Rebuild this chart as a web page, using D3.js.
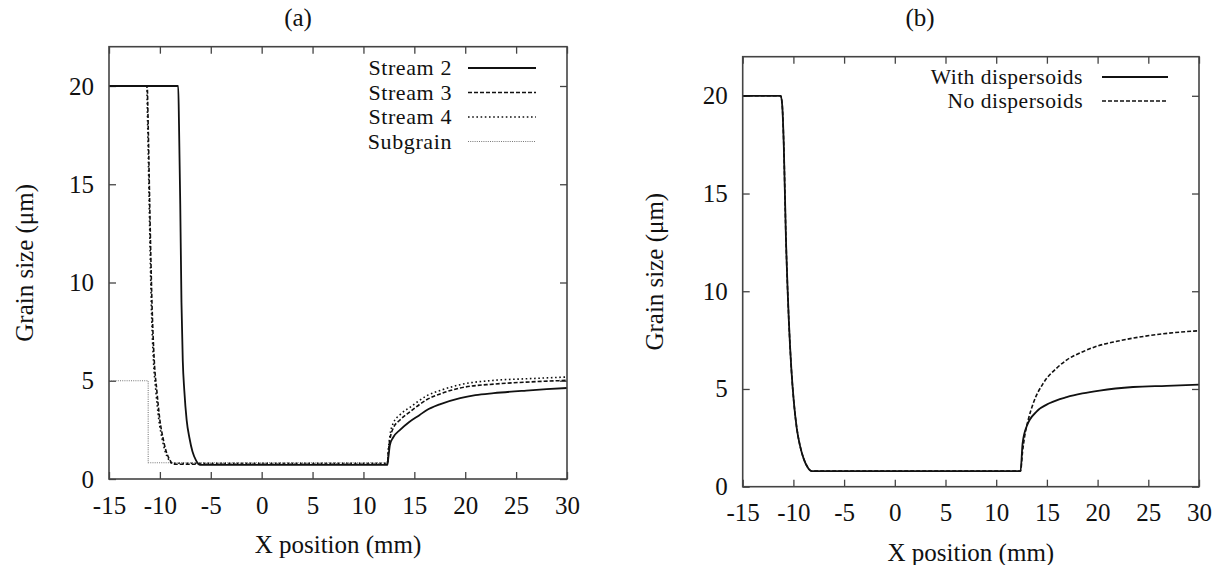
<!DOCTYPE html>
<html><head><meta charset="utf-8">
<script src="https://cdn.jsdelivr.net/npm/d3@7"></script>
<style>
html,body{margin:0;padding:0;background:#fff;}
svg text{font-family:"Liberation Serif","Times New Roman",serif;fill:#111;}
</style></head>
<body><svg id="c" width="1223" height="565"></svg>
<script>
// ---------- data ----------
const xTicks = [-15,-10,-5,0,5,10,15,20,25,30];
const yTicks = [0,5,10,15,20];
const xDomain = [-15,30];
const yDomain = [0,22];

// Panel (a)
const stream2 = [[-15,20],[-8.2,20],[-8.12,18],[-8.0,14],[-7.88,9],[-7.75,6],[-7.6,4.5],[-7.37,3],[-7.1,2.1],[-6.8,1.4],[-6.45,0.95],[-6.05,0.72],
  [12.35,0.72],[12.45,1.1],[12.6,1.73],[12.9,2.1],[13.6,2.5],[14.5,2.9],[15.5,3.25],[16.2,3.5],[17.5,3.8],[19.5,4.12],[21,4.27],[22.8,4.37],[26,4.5],[28,4.57],[30,4.63]];
const stream3 = [[-15,20],[-11.25,20],[-11.15,18],[-11.0,14],[-10.78,9],[-10.55,6],[-10.3,4.5],[-10.0,3],[-9.7,2.1],[-9.38,1.4],[-9.05,1.0],[-8.68,0.75],
  [12.35,0.75],[12.45,1.4],[12.6,2.0],[12.93,2.59],[13.59,3.0],[14.6,3.43],[16.2,4.03],[17.8,4.38],[19.5,4.63],[22.8,4.83],[26,4.93],[30,5.02]];
const stream4 = [[-15,20],[-11.3,20],[-11.2,18],[-11.05,14],[-10.85,9],[-10.63,6],[-10.4,4.5],[-10.1,3],[-9.8,2.1],[-9.48,1.4],[-9.15,1.0],[-8.8,0.8],
  [12.35,0.8],[12.45,1.5],[12.6,2.2],[12.93,2.84],[13.59,3.27],[14.6,3.66],[16.2,4.23],[17.8,4.55],[19.5,4.8],[22.8,5.02],[26,5.1],[30,5.19]];
const subgrain = [[-15,5],[-11.15,5],[-11.15,0.83],[12.3,0.83]];
const legendA = ["Stream 2","Stream 3","Stream 4","Subgrain"];

// Panel (b)
const withDisp = [[-15,20],[-11.25,20],[-11.1,19.5],[-10.95,17.5],[-10.75,13],[-10.45,8.5],[-10.2,6],[-9.95,4.3],[-9.67,3],[-9.35,2.1],[-9.0,1.45],[-8.6,1.0],[-8.2,0.8],
  [12.4,0.8],[12.6,2.2],[13.0,3.08],[14.0,3.85],[15.3,4.28],[16.95,4.58],[18.5,4.77],[20.2,4.92],[23.5,5.1],[26.8,5.16],[30,5.22]];
const noDisp = [[-15,20],[-11.25,20],[-11.1,19.5],[-10.95,17.5],[-10.75,13],[-10.45,8.5],[-10.2,6],[-9.95,4.3],[-9.67,3],[-9.35,2.1],[-9.0,1.45],[-8.6,1.0],[-8.2,0.8],
  [12.4,0.8],[12.6,1.8],[12.8,2.56],[13.2,3.5],[13.66,4.28],[14.65,5.3],[15.97,6.07],[17.0,6.5],[18.6,6.92],[20,7.2],[21.9,7.44],[25.2,7.74],[27.5,7.88],[30,7.98]];
const legendB = ["With dispersoids","No dispersoids"];

const titles = ["(a)","(b)"];
const xLabel = "X position (mm)";
const yLabel = "Grain size (μm)";

// ---------- layout / styles ----------
const svg = d3.select("#c");
const FS = 25;
const AX = "#444";
const fmt = d => String(d); // plain hyphen-minus like the original
const styles = {
  solid:   {stroke:"#111", w:1.8, dash:null},
  dashed:  {stroke:"#111", w:1.6, dash:"4,2"},
  dotted:  {stroke:"#111", w:1.6, dash:"1.6,2.6"},
  sub:     {stroke:"#777", w:1.1, dash:"1,1.2"}
};

function panel(cfg){
  const g = svg.append("g");
  const x = d3.scaleLinear().domain(xDomain).range([cfg.left,cfg.right]);
  const y = d3.scaleLinear().domain(yDomain).range([cfg.bottom,cfg.top]);

  const bot = d3.axisBottom(x).tickValues(xTicks).tickSize(-7).tickSizeOuter(0).tickPadding(17).tickFormat(fmt);
  const top = d3.axisTop(x).tickValues(xTicks).tickSize(-7).tickSizeOuter(0).tickFormat("");
  const lef = d3.axisLeft(y).tickValues(yTicks).tickSize(-7).tickSizeOuter(0).tickPadding(15).tickFormat(fmt);
  const rig = d3.axisRight(y).tickValues(yTicks).tickSize(-7).tickSizeOuter(0).tickFormat("");
  const axes = [
    g.append("g").attr("transform",`translate(0,${cfg.bottom})`).call(bot),
    g.append("g").attr("transform",`translate(0,${cfg.top})`).call(top),
    g.append("g").attr("transform",`translate(${cfg.left},0)`).call(lef),
    g.append("g").attr("transform",`translate(${cfg.right},0)`).call(rig)
  ];
  axes.forEach(a=>{
    a.attr("font-family",null).attr("font-size",null);
    a.select(".domain").remove();
    a.selectAll("line").attr("stroke",AX).attr("stroke-width",1.3);
    a.selectAll("text").attr("font-size",FS).attr("fill","#111");
  });

  const line = d3.line().x(d=>x(d[0])).y(d=>y(d[1])).curve(d3.curveMonotoneX);
  const lineLin = d3.line().x(d=>x(d[0])).y(d=>y(d[1]));
  cfg.series.forEach(s=>{
    const st = styles[s.style];
    g.append("path").datum(s.data)
      .attr("d", s.linear ? lineLin : line)
      .attr("fill","none").attr("stroke",st.stroke).attr("stroke-width",st.w)
      .attr("stroke-dasharray",st.dash).attr("stroke-linejoin","round");
  });

  g.append("rect").attr("x",cfg.left).attr("y",cfg.top)
    .attr("width",cfg.right-cfg.left).attr("height",cfg.bottom-cfg.top)
    .attr("fill","none").attr("stroke",AX).attr("stroke-width",1.6);

  cfg.legend.forEach((s,i)=>{
    const ly = cfg.legY + i*cfg.legDy;
    const st = styles[s.style];
    g.append("text").attr("x",cfg.legTextX).attr("y",ly).attr("dy","0.33em")
      .attr("text-anchor","end").attr("font-size",cfg.legFS)
      .attr("letter-spacing",cfg.legLS).text(s.name);
    g.append("line").attr("x1",cfg.legL1).attr("x2",cfg.legL2).attr("y1",ly).attr("y2",ly)
      .attr("stroke",st.stroke).attr("stroke-width",st.w).attr("stroke-dasharray",st.dash);
  });

  g.append("text").attr("x",(cfg.left+cfg.right)/2).attr("y",cfg.bottom+66).attr("dy","0.33em")
    .attr("text-anchor","middle").attr("font-size",FS).text(xLabel);
  g.append("text").attr("transform",`translate(${cfg.yLabX},${(cfg.top+cfg.bottom)/2}) rotate(-90)`)
    .attr("dy","0.33em").attr("text-anchor","middle").attr("font-size",FS).text(yLabel);
  g.append("text").attr("x",cfg.titleX).attr("y",26)
    .attr("text-anchor","middle").attr("font-size",FS).text(cfg.title);
}

const seriesA = [
  {name:legendA[3], data:subgrain, style:"sub", linear:true},
  {name:legendA[2], data:stream4, style:"dotted"},
  {name:legendA[1], data:stream3, style:"dashed"},
  {name:legendA[0], data:stream2, style:"solid"}
];
panel({left:109, right:567, top:46.7, bottom:479, yLabX:25, titleX:298, title:titles[0],
  legTextX:452, legL1:468, legL2:536, legY:68, legDy:24.5, legFS:22, legLS:0.6,
  series:seriesA,
  legend:[...seriesA].sort((a,b)=>legendA.indexOf(a.name)-legendA.indexOf(b.name))
});

const seriesB = [
  {name:legendB[1], data:noDisp, style:"dashed"},
  {name:legendB[0], data:withDisp, style:"solid"}
];
panel({left:742.7, right:1199, top:56.7, bottom:486.7, yLabX:655, titleX:920, title:titles[1],
  legTextX:1083, legL1:1102, legL2:1168, legY:77, legDy:24, legFS:21.5, legLS:0.5,
  series:seriesB,
  legend:[...seriesB].sort((a,b)=>legendB.indexOf(a.name)-legendB.indexOf(b.name))
});
</script>
</body></html>
